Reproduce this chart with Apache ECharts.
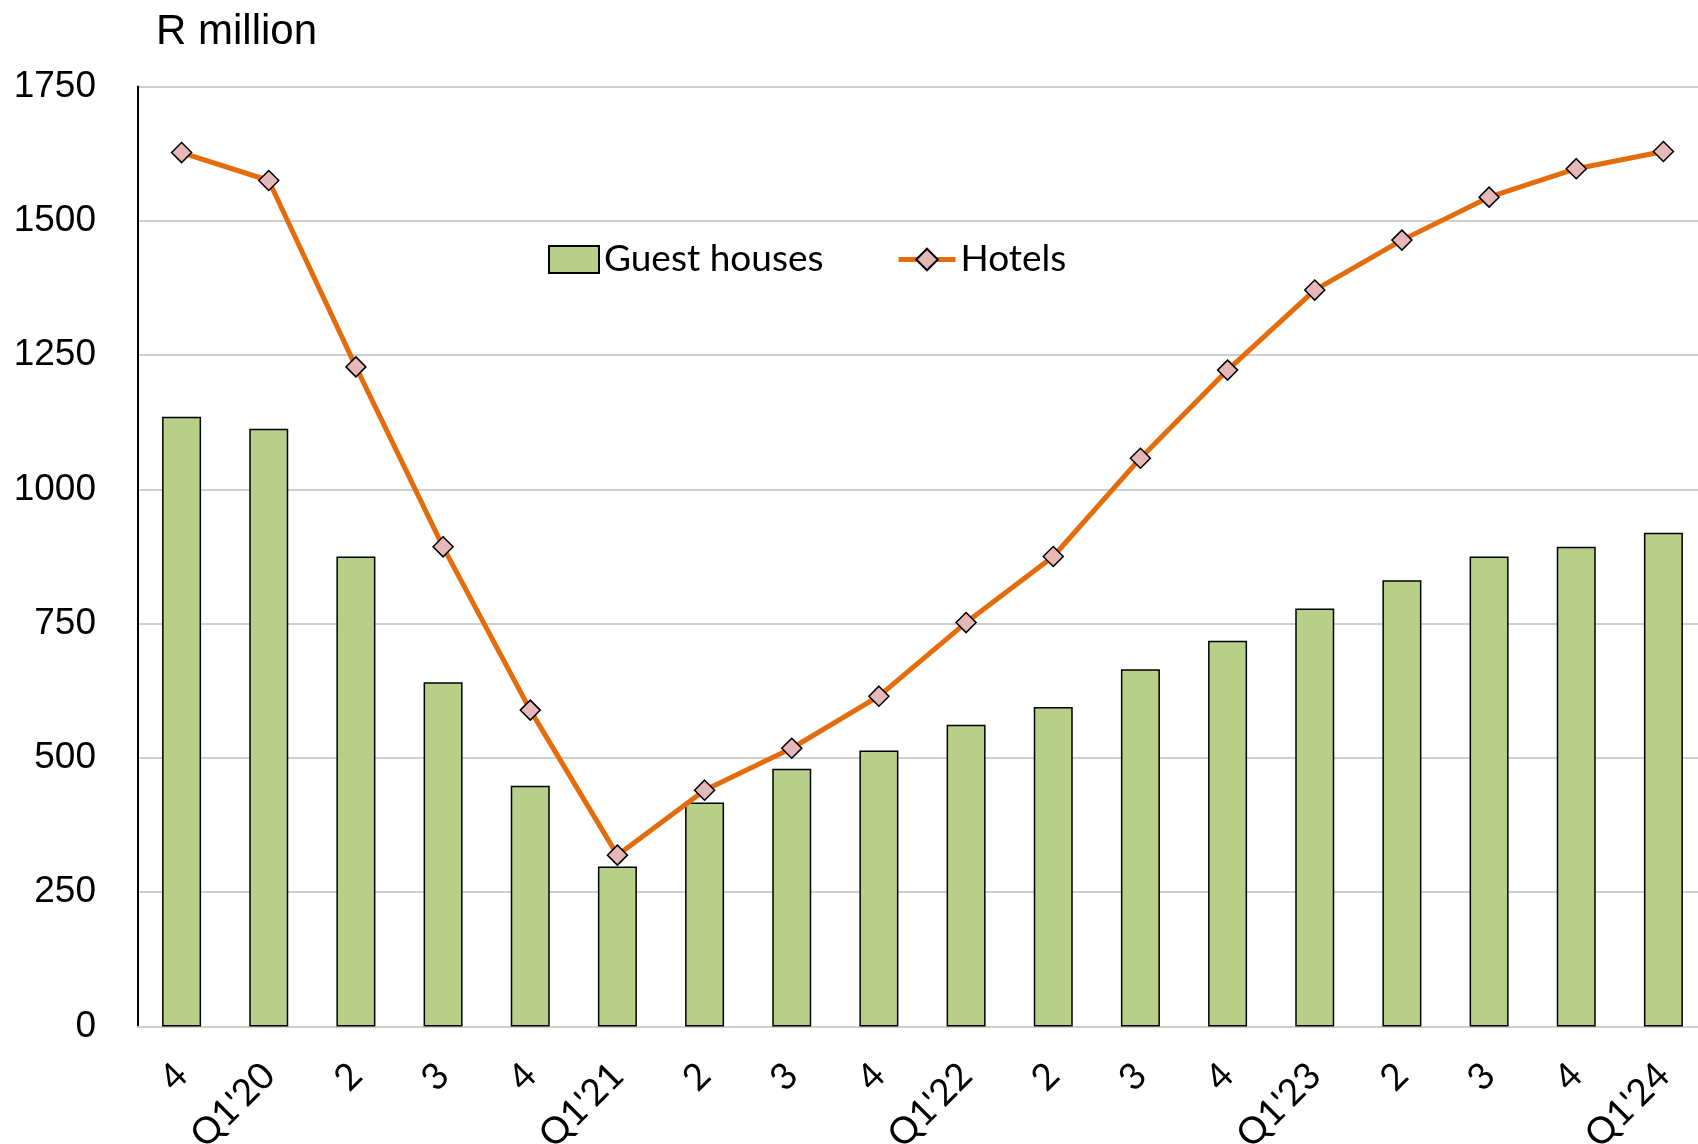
<!DOCTYPE html>
<html><head><meta charset="utf-8">
<script src="https://cdn.jsdelivr.net/npm/echarts@6/dist/echarts.min.js"></script>
<style>html,body{margin:0;padding:0;background:#fff}#c{width:1698px;height:1144px}</style>
</head><body><div id="c"></div>
<script>
var categories = ["4","Q1'20","2","3","4","Q1'21","2","3","4","Q1'22","2","3","4","Q1'23","2","3","4","Q1'24"];
var guestHouses = [1135,1113,875,641,448,298,417,480,514,562,595,665,718,778,831,875,893,919];
var hotels = [1627,1575,1228,893,589,319,440,518,615,752,875,1058,1222,1371,1464,1544,1597,1629];
var yTicks = [0,250,500,750,1000,1250,1500,1750];

var chart = echarts.init(document.getElementById('c'), null, {renderer:'canvas'});
chart.setOption({
  animation:false,
  backgroundColor:'#fff',
  title:{text:'R million', left:151, top:6,
    textStyle:{fontFamily:'Liberation Sans', fontSize:42, fontWeight:'normal', color:'#000'}},
  legend:[
    {left:543, top:236, itemWidth:50, itemHeight:27,
      textStyle:{fontFamily:'Lato', fontSize:37, color:'#000'},
      data:[{name:'Guest houses', icon:'rect'}]},
    {left:891, top:236, itemWidth:57, itemHeight:27,
      textStyle:{fontFamily:'Lato', fontSize:37, color:'#000'},
      lineStyle:{width:5},
      data:[{name:'Hotels'}]}
  ],
  grid:{left:138, top:86.5, width:1569, height:940, containLabel:false, outerBoundsMode:'none'},
  xAxis:{type:'category', data:categories,
    axisLine:{lineStyle:{color:'#D0D0D0', width:2}},
    axisTick:{show:false},
    axisLabel:{rotate:45, margin:43, fontFamily:'Lato', fontSize:37, color:'#000', interval:0}},
  yAxis:{type:'value', min:yTicks[0], max:yTicks[yTicks.length-1], interval:250,
    axisLine:{show:true, lineStyle:{color:'#000', width:2}},
    axisTick:{show:false},
    splitLine:{lineStyle:{color:'#BFBFBF', width:1.5}},
    axisLabel:{margin:42, fontFamily:'Liberation Sans', fontSize:37, color:'#000',
      formatter:function(v){return String(v);}}},
  series:[
    {name:'Guest houses', type:'bar', data:guestHouses, barWidth:39,
      itemStyle:{color:'#B8CF8A', borderColor:'#000', borderWidth:1.5}},
    {name:'Hotels', type:'line', data:hotels, symbol:'diamond', symbolSize:20,
      lineStyle:{color:'#E46C0A', width:5},
      itemStyle:{color:'#E6B9B8', borderColor:'#000', borderWidth:1.5}}
  ]
});
</script></body></html>
